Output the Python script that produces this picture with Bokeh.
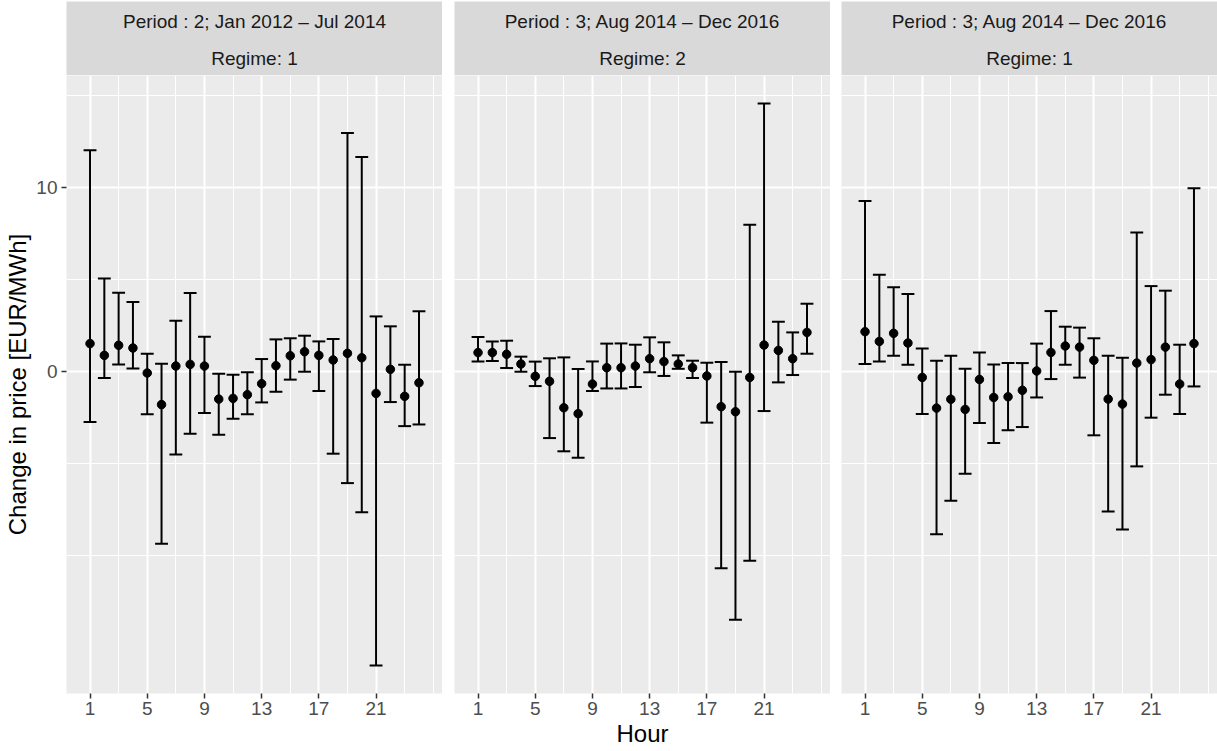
from bokeh.plotting import figure
from bokeh.layouts import row, column
from bokeh.models import Range1d, FixedTicker, ColumnDataSource
from bokeh.core.properties import value
from bokeh.embed import file_html
from bokeh.resources import INLINE

# ---- data -------------------------------------------------------------
hours = list(range(1, 25))

period_labels = [
    "Period : 2; Jan 2012 \u2013 Jul 2014",
    "Period : 3; Aug 2014 \u2013 Dec 2016",
    "Period : 3; Aug 2014 \u2013 Dec 2016",
]
regime_labels = ["Regime: 1", "Regime: 2", "Regime: 1"]

p1_est = [1.51, 0.87, 1.42, 1.27, -0.09, -1.81, 0.29, 0.38, 0.29, -1.51, -1.47, -1.27,
          -0.67, 0.31, 0.85, 1.07, 0.87, 0.62, 0.98, 0.74, -1.20, 0.11, -1.36, -0.62]
p1_upper = [12.03, 5.05, 4.28, 3.77, 0.96, 0.42, 2.76, 4.26, 1.89, -0.13, -0.18, -0.05,
            0.67, 1.74, 1.80, 1.94, 1.63, 1.76, 12.97, 11.67, 2.99, 2.45, 0.36, 3.27]
p1_lower = [-2.76, -0.36, 0.38, 0.16, -2.34, -9.38, -4.52, -3.39, -2.27, -3.45, -2.58, -2.34,
            -1.69, -1.11, -0.45, -0.02, -1.07, -4.48, -6.08, -7.66, -16.00, -1.67, -2.98, -2.89]

p2_est = [1.02, 1.02, 0.93, 0.40, -0.27, -0.54, -1.98, -2.30, -0.69, 0.20, 0.20, 0.29,
          0.69, 0.53, 0.40, 0.20, -0.25, -1.92, -2.20, -0.33, 1.43, 1.14, 0.69, 2.12]
p2_upper = [1.87, 1.63, 1.67, 0.80, 0.53, 0.71, 0.76, 0.13, 0.54, 1.51, 1.52, 1.45,
            1.85, 1.58, 0.87, 0.58, 0.47, 0.51, -0.02, 7.98, 14.57, 2.70, 2.12, 3.68]
p2_lower = [0.53, 0.56, 0.18, -0.02, -0.80, -3.63, -4.35, -4.70, -1.07, -0.93, -0.93, -0.85,
            -0.05, -0.25, 0.14, -0.36, -2.79, -10.71, -13.52, -10.31, -2.16, -0.60, -0.20, 0.96]

p3_est = [2.16, 1.63, 2.07, 1.54, -0.33, -2.00, -1.52, -2.07, -0.44, -1.42, -1.38, -1.03,
          0.02, 1.03, 1.38, 1.32, 0.60, -1.51, -1.78, 0.45, 0.64, 1.32, -0.69, 1.51]
p3_upper = [9.27, 5.26, 4.57, 4.21, 1.24, 0.58, 0.85, 0.14, 1.02, 0.38, 0.45, 0.45,
            1.51, 3.28, 2.43, 2.38, 1.80, 0.85, 0.74, 7.55, 4.64, 4.39, 1.45, 9.96]
p3_lower = [0.40, 0.53, 0.85, 0.36, -2.32, -8.87, -7.04, -5.57, -2.81, -3.90, -3.21, -3.03,
            -1.42, -0.42, 0.36, -0.34, -3.48, -7.62, -8.60, -5.17, -2.52, -1.27, -2.32, -0.82]

x_major = [1, 5, 9, 13, 17, 21]
x_minor = [3, 7, 11, 15, 19, 23, 25]
y_major = [0, 10]
y_minor = [-10, -5, 5, 15, 20]

panels = [
    (p1_est, p1_lower, p1_upper),
    (p2_est, p2_lower, p2_upper),
    (p3_est, p3_lower, p3_upper),
]

# ---- styling ----------------------------------------------------------
FONT = "Liberation Sans"
PANEL_BG = "#EBEBEB"
STRIP_BG = "#D9D9D9"
SMALL_TXT = "19px"
TITLE_TXT = "24px"
BAR_HALF = 0.45          # half width of the error-bar caps, in hours
PANEL_W = 376
PANEL_H = 618
STRIP_H = 74
FIG_H = 676
LEFT = [66, 12, 11]

# shared scales, with 5% expansion like the usual facet defaults
x_lo, x_hi = min(hours) - BAR_HALF, max(hours) + BAR_HALF
x_pad = 0.05 * (x_hi - x_lo)
x_range = Range1d(x_lo - x_pad, x_hi + x_pad)

y_all_lo = min(min(l) for _, l, _ in panels)
y_all_hi = max(max(u) for _, _, u in panels)
y_pad = 0.05 * (y_all_hi - y_all_lo)
y_range = Range1d(y_all_lo - y_pad, y_all_hi + y_pad)


def strip_figure(i):
    s = figure(width=LEFT[i] + PANEL_W, height=STRIP_H + 1,
               x_range=Range1d(0, 1), y_range=Range1d(0, 2),
               min_border_left=LEFT[i], min_border_right=0,
               min_border_top=1, min_border_bottom=0,
               x_axis_location=None, y_axis_location=None,
               background_fill_color=STRIP_BG, border_fill_color="white",
               outline_line_color=None, toolbar_location=None,
               output_backend="svg")
    s.grid.visible = False
    s.text(x=[0.5, 0.5], y=[1.5, 0.5], text=[period_labels[i], regime_labels[i]],
           text_align="center", text_baseline="middle", y_offset=1,
           text_font=value(FONT), text_font_size=SMALL_TXT, text_color="#1A1A1A")
    return s


def panel_figure(i):
    est, lower, upper = panels[i]
    src = ColumnDataSource(dict(
        hour=hours, est=est, lower=lower, upper=upper,
        cap_l=[h - BAR_HALF for h in hours],
        cap_r=[h + BAR_HALF for h in hours],
    ))
    p = figure(width=LEFT[i] + PANEL_W, height=FIG_H,
               x_range=x_range, y_range=y_range,
               min_border_left=LEFT[i], min_border_right=0,
               min_border_top=0, min_border_bottom=FIG_H - PANEL_H,
               y_axis_location="left" if i == 0 else None,
               background_fill_color=PANEL_BG, border_fill_color="white",
               outline_line_color=None, toolbar_location=None,
               output_backend="svg")

    # grid
    p.xgrid.ticker = FixedTicker(ticks=x_major, minor_ticks=x_minor)
    p.ygrid.ticker = FixedTicker(ticks=y_major, minor_ticks=y_minor)
    for g in (p.xgrid, p.ygrid):
        g.grid_line_color = "white"
        g.grid_line_width = 2
        g.minor_grid_line_color = "white"
        g.minor_grid_line_width = 1

    # axes
    for ax in p.axis:
        ax.axis_line_color = None
        ax.major_tick_line_color = "#333333"
        ax.major_tick_line_width = 1.5
        ax.major_tick_out = 5
        ax.major_tick_in = 0
        ax.minor_tick_line_color = None
        ax.major_label_text_font = FONT
        ax.major_label_text_font_size = SMALL_TXT
        ax.major_label_text_color = "#4D4D4D"
        ax.axis_label_text_font = FONT
        ax.axis_label_text_font_size = TITLE_TXT
        ax.axis_label_text_font_style = "normal"
        ax.axis_label_text_color = "black"
    p.xaxis.ticker = FixedTicker(ticks=x_major, minor_ticks=[])
    p.xaxis.major_label_standoff = 3
    if i == 0:
        p.yaxis.ticker = FixedTicker(ticks=y_major, minor_ticks=[])
        p.yaxis.major_label_standoff = 4
        p.yaxis.axis_label = "Change in price [EUR/MWh]"
        p.yaxis.axis_label_standoff = 2
    if i == 1:
        p.xaxis.axis_label = "Hour"
        p.xaxis.axis_label_standoff = 2

    # error bars and point estimates
    p.segment(x0="hour", y0="lower", x1="hour", y1="upper", source=src,
              line_color="black", line_width=2)
    p.segment(x0="cap_l", y0="upper", x1="cap_r", y1="upper", source=src,
              line_color="black", line_width=2)
    p.segment(x0="cap_l", y0="lower", x1="cap_r", y1="lower", source=src,
              line_color="black", line_width=2)
    p.scatter(x="hour", y="est", source=src, size=8.5,
              fill_color="black", line_color="black")
    return p


layout = row(*[column(strip_figure(i), panel_figure(i)) for i in range(3)])

open("out.html", "w").write(file_html(layout, INLINE))
